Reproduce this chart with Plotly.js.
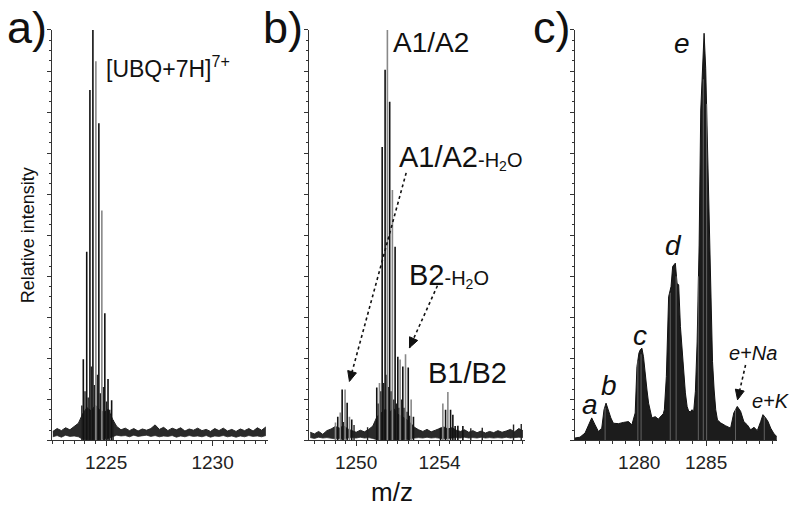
<!DOCTYPE html>
<html>
<head>
<meta charset="utf-8">
<script src="https://cdn.plot.ly/plotly-3.0.1.min.js"></script>
<style>html,body{margin:0;padding:0;background:#fff;}#chart{width:800px;height:517px;}</style>
</head>
<body>
<div id="chart"></div>
<script>
// ---------- Panel a: [UBQ+7H]7+ ----------
const aBlackMz  = [1223.93, 1224.09, 1224.24, 1224.38, 1224.66, 1224.94, 1225.09, 1225.26];
const aBlackInt = [19.8, 46.0, 85.4, 100, 77.3, 31.0, 15.0, 9.8];
const aGreyMz   = [1224.52, 1224.80];
const aGreyInt  = [92.4, 56.0];
const aLowMz    = [1223.86, 1224.01, 1224.16, 1224.31, 1224.45, 1224.59, 1224.73, 1224.87, 1225.02, 1225.17, 1225.33];
const aLowInt   = [8.5, 12.0, 10.5, 18.0, 13.5, 16.0, 11.5, 13.0, 9.5, 7.5, 5.0];
const aNoiseMz  = [1222.5,1222.7,1222.9,1223.1,1223.3,1223.5,1223.7,1223.9,1224.1,1224.3,1224.5,1224.7,1224.9,1225.1,1225.3,1225.5,1225.7,1225.9,1226.1,1226.3,1226.5,1226.7,1226.9,1227.1,1227.3,1227.5,1227.7,1227.9,1228.1,1228.3,1228.5,1228.7,1228.9,1229.1,1229.3,1229.5,1229.7,1229.9,1230.1,1230.3,1230.5,1230.7,1230.9,1231.1,1231.3,1231.5,1231.7,1231.9,1232.1,1232.3,1232.5];
const aNoiseHigh= [2.2,2.9,2.4,3.1,2.6,3.3,4.2,6.5,8.0,7.2,8.6,7.4,6.8,7.6,5.2,3.4,2.6,3.0,2.4,2.9,2.3,2.8,2.5,2.9,3.8,2.7,3.2,2.4,3.0,2.6,3.1,2.3,2.8,2.5,3.0,2.4,2.7,2.2,2.9,2.4,3.0,2.3,2.7,2.2,2.8,2.4,2.9,2.3,3.1,2.5,3.3];
const aNoiseLow = [0.9,1.2,0.8,1.3,1.0,1.1,0.9,0.3,0.2,0.2,0.3,0.2,0.4,0.5,0.9,1.3,1.1,1.2,0.9,1.3,1.0,1.1,1.3,1.0,1.2,0.9,1.1,1.0,1.2,0.8,1.1,0.9,1.2,1.0,1.1,0.9,1.2,0.8,1.1,1.0,1.2,0.9,1.1,0.8,1.1,0.9,1.2,1.0,1.1,0.9,1.2];
const aTickVals = [1225, 1230];
const aTickText = ['1225', '1230'];

// ---------- Panel b: A1/A2, B1/B2 ----------
const bBlackMz  = [1249.12, 1249.33, 1249.57, 1249.79, 1250.99, 1251.25, 1251.39, 1251.61, 1251.87, 1252.00, 1252.24, 1252.50, 1252.75, 1254.05, 1254.29, 1254.53, 1254.64, 1254.75, 1254.88, 1255.12];
const bBlackInt = [5.8, 12.4, 9.2, 5.1, 12.9, 71.5, 90.3, 82.5, 47.2, 20.4, 18.0, 17.8, 5.8, 3.1, 7.5, 7.5, 6.3, 3.5, 3.6, 3.5];
const bGreyMz   = [1249.01, 1249.24, 1249.47, 1249.68, 1251.12, 1251.50, 1251.74, 1252.11, 1252.37, 1252.64, 1254.16, 1254.40];
const bGreyInt  = [4.4, 6.8, 12.4, 5.8, 14.0, 100, 61.0, 19.7, 21.0, 10.0, 9.0, 11.8];
const bLowMz    = [1251.06, 1251.18, 1251.32, 1251.44, 1251.56, 1251.68, 1251.80, 1251.93, 1252.06, 1252.18, 1252.30, 1252.44, 1252.57, 1249.40, 1249.90, 1250.55, 1255.50, 1256.05, 1257.55, 1257.92];
const bLowInt   = [9.0, 12.0, 14.0, 16.0, 13.0, 12.0, 10.0, 9.0, 8.0, 10.0, 8.0, 7.0, 6.0, 4.5, 3.8, 3.2, 3.0, 3.1, 3.9, 4.0];
const bNoiseMz  = [1247.8,1248.0,1248.2,1248.4,1248.6,1248.8,1249.0,1249.2,1249.4,1249.6,1249.8,1250.0,1250.2,1250.4,1250.6,1250.8,1251.0,1251.2,1251.4,1251.6,1251.8,1252.0,1252.2,1252.4,1252.6,1252.8,1253.0,1253.2,1253.4,1253.6,1253.8,1254.0,1254.2,1254.4,1254.6,1254.8,1255.0,1255.2,1255.4,1255.6,1255.8,1256.0,1256.2,1256.4,1256.6,1256.8,1257.0,1257.2,1257.4,1257.6,1257.8,1258.0];
const bNoiseHigh= [2.0,1.6,2.2,1.5,2.4,2.8,3.4,3.0,3.6,2.8,2.4,2.0,2.5,2.1,2.7,3.5,5.8,6.8,7.6,6.9,7.8,6.4,5.9,5.2,4.3,3.2,2.6,2.2,2.7,2.1,2.5,2.9,3.3,2.8,3.1,2.5,2.2,2.6,2.0,2.4,1.9,2.3,1.8,2.2,1.9,2.4,2.0,2.3,2.7,2.1,2.9,2.4];
const bNoiseLow = [0.7,0.5,0.8,0.6,0.7,0.5,0.4,0.5,0.4,0.6,0.7,0.6,0.8,0.6,0.7,0.5,0.2,0.1,0.2,0.1,0.2,0.2,0.3,0.3,0.5,0.6,0.7,0.6,0.8,0.6,0.7,0.5,0.4,0.5,0.6,0.7,0.6,0.8,0.6,0.7,0.6,0.8,0.6,0.7,0.6,0.7,0.6,0.8,0.6,0.7,0.8,0.7];
const bTickVals = [1250, 1254];
const bTickText = ['1250', '1254'];

// ---------- Panel c: a..e species ----------
const cMz  = [1275.20,1275.57,1275.95,1276.20,1276.45,1276.70,1276.95,1277.20,1277.37,1277.52,1277.70,1277.88,1278.07,1278.45,1278.82,1279.20,1279.45,1279.62,1279.70,1279.83,1279.98,1280.08,1280.20,1280.32,1280.45,1280.58,1280.70,1280.83,1280.95,1281.20,1281.43,1281.65,1281.80,1281.88,1282.03,1282.20,1282.38,1282.50,1282.70,1282.83,1282.95,1283.08,1283.20,1283.32,1283.45,1283.58,1283.70,1283.83,1283.95,1284.07,1284.20,1284.33,1284.48,1284.60,1284.73,1284.85,1284.97,1285.10,1285.23,1285.35,1285.48,1285.60,1285.72,1285.85,1286.08,1286.45,1286.83,1287.07,1287.33,1287.58,1287.82,1288.08,1288.33,1288.58,1288.83,1289.08,1289.25,1289.45,1289.63,1289.83,1290.08,1290.28];
const cInt = [0.6,0.8,1.8,3.8,5.5,3.8,2.2,3.0,7.5,9.1,7.1,5.5,4.2,4.1,4.4,4.6,3.8,5.8,6.7,18.0,21.3,22.1,22.5,20.4,15.6,12.3,9.1,6.7,5.5,5.8,5.2,6.0,6.5,7.5,15.6,35.0,37.5,42.4,43.2,38.3,37.9,27.8,22.1,16.4,11.6,8.3,7.1,7.0,7.5,7.0,12.0,24.0,47.6,80.5,91.9,99.2,90.7,72.4,50.6,30.2,19.2,12.3,7.5,5.0,4.3,3.6,3.0,6.7,8.3,7.1,4.6,3.8,2.6,3.2,2.4,4.6,6.3,5.5,4.6,3.0,1.6,1.0];
// lighter isotope lines visible inside the filled envelopes
const cGreyMz  = [1277.45, 1279.90, 1280.14, 1282.32, 1282.76, 1284.42, 1284.79, 1285.04, 1287.20, 1289.35];
const cGreyInt = [8.0, 19.5, 21.0, 36.0, 40.0, 40.0, 88.0, 82.0, 7.6, 5.8];
const cTickVals = [1280, 1285];
const cTickText = ['1280', '1285'];

// ---------- helpers ----------
function sticks(mz, h) {
  const x = [], y = [];
  mz.forEach((m, i) => { x.push(m, m, null); y.push(0, h[i], null); });
  return {x, y};
}
function stickTrace(mz, h, color, width, xa, ya) {
  const s = sticks(mz, h);
  return {type: 'scatter', mode: 'lines', x: s.x, y: s.y, xaxis: xa, yaxis: ya,
          line: {color: color, width: width}, hoverinfo: 'skip'};
}
function bandTraces(mz, low, high, xa, ya) {
  return [
    {type: 'scatter', mode: 'lines', x: mz, y: low, xaxis: xa, yaxis: ya,
     line: {color: '#2a2a2a', width: 0.8}, hoverinfo: 'skip'},
    {type: 'scatter', mode: 'lines', x: mz, y: high, xaxis: xa, yaxis: ya, fill: 'tonexty',
     fillcolor: '#2a2a2a', line: {color: '#222', width: 1}, hoverinfo: 'skip'}
  ];
}

const data = [
  ...bandTraces(aNoiseMz, aNoiseLow, aNoiseHigh, 'x', 'y'),
  stickTrace(aLowMz, aLowInt, '#222', 1.4, 'x', 'y'),
  stickTrace(aGreyMz, aGreyInt, '#888', 1.6, 'x', 'y'),
  stickTrace(aBlackMz, aBlackInt, '#111', 1.6, 'x', 'y'),
  ...bandTraces(bNoiseMz, bNoiseLow, bNoiseHigh, 'x2', 'y2'),
  stickTrace(bLowMz, bLowInt, '#222', 1.4, 'x2', 'y2'),
  stickTrace(bGreyMz, bGreyInt, '#888', 1.6, 'x2', 'y2'),
  stickTrace(bBlackMz, bBlackInt, '#111', 1.6, 'x2', 'y2'),
  {type: 'scatter', mode: 'lines', x: cMz, y: cInt, xaxis: 'x3', yaxis: 'y3', fill: 'tozeroy',
   fillcolor: '#1c1c1c', line: {color: '#111', width: 1}, hoverinfo: 'skip'},
  stickTrace(cGreyMz, cGreyInt, '#6a6a6a', 0.9, 'x3', 'y3')
];

const FONT = 'Liberation Sans, Arial, Helvetica, sans-serif';
const axisCol = '#333';
function xAxis(domain, range, tv, tt, minorDt, anchor) {
  return {domain: domain, range: range, anchor: anchor, tickvals: tv, ticktext: tt,
    ticks: 'outside', ticklen: 5, tickwidth: 1, tickcolor: axisCol,
    minor: {ticks: 'outside', tick0: tv[0], dtick: minorDt, ticklen: 3, tickcolor: axisCol, tickwidth: 1},
    showline: true, linecolor: axisCol, linewidth: 1, showgrid: false, zeroline: false,
    tickfont: {family: FONT, size: 19, color: '#222'}};
}
function yAxis(anchor) {
  return {domain: [0.148, 0.942], range: [0, 100], anchor: anchor, showticklabels: false,
    ticks: 'outside', tick0: 0, dtick: 10, ticklen: 4, tickwidth: 1, tickcolor: axisCol,
    minor: {ticks: 'outside', dtick: 2.5, ticklen: 2, tickcolor: axisCol, tickwidth: 1},
    showline: true, linecolor: axisCol, linewidth: 1, showgrid: false, zeroline: false};
}

const ann = [];
function label(text, x, y, xref, yref, size, opts) {
  ann.push(Object.assign({text: text, x: x, y: y, xref: xref, yref: yref, showarrow: false,
    font: {family: FONT, size: size, color: '#111'}, xanchor: 'left', yanchor: 'middle'}, opts || {}));
}
// panel letters and axis titles
label('a)', 0.006, 0.946, 'paper', 'paper', 45);
label('b)', 0.326, 0.946, 'paper', 'paper', 45);
label('c)', 0.664, 0.946, 'paper', 'paper', 45);
label('m/z', 0.49, 0.048, 'paper', 'paper', 26, {xanchor: 'center'});
label('Relative intensity', 0.035, 0.545, 'paper', 'paper', 18, {xanchor: 'center', textangle: -90});
// panel a
label('[UBQ+7H]<sup>7+</sup>', 1224.90, 91.0, 'x', 'y', 23);
// panel b
const sub = (t) => '<span style="font-size:20px">' + t + '</span>';
label('A1/A2', 1251.66, 97.0, 'x2', 'y2', 28);
label('A1/A2' + sub('-H<sub>2</sub>O'), 1251.95, 68.9, 'x2', 'y2', 29);
label('B2' + sub('-H<sub>2</sub>O'), 1252.42, 40.1, 'x2', 'y2', 29);
label('B1/B2', 1253.33, 16.5, 'x2', 'y2', 29);
// panel c
const it = {xanchor: 'center', font: {family: FONT, size: 28, color: '#111', style: 'italic'}};
label('e', 1283.23, 96.8, 'x3', 'y3', 28, it);
label('d', 1282.55, 47.4, 'x3', 'y3', 28, it);
label('c', 1280.08, 25.5, 'x3', 'y3', 28, it);
label('b', 1277.75, 13.3, 'x3', 'y3', 28, it);
label('a', 1276.32, 8.7, 'x3', 'y3', 28, it);
const itS = {xanchor: 'center', font: {family: FONT, size: 20, color: '#111', style: 'italic'}};
label('e+Na', 1288.48, 21.4, 'x3', 'y3', 20, itS);
label('e+K', 1289.83, 9.7, 'x3', 'y3', 20, itS);

// dotted arrows: tail -> head (data coordinates); head = filled triangle drawn in pixel units
const arrows = [
  {xr: 'x2', yr: 'y2', tx: 1252.40, ty: 65.2, hx: 1249.68, hy: 14.4, head: 'M0,0 L6.96,8.47 L-1.72,10.83 Z'},
  {xr: 'x2', yr: 'y2', tx: 1253.90, ty: 37.7, hx: 1252.56, hy: 22.6, head: 'M0,0 L8.21,7.26 L0.01,10.96 Z'},
  {xr: 'x3', yr: 'y3', tx: 1287.95, ty: 18.4, hx: 1287.35, hy: 9.9,  head: 'M0,0 L6.62,8.75 L-2.16,10.75 Z'}
];
const shapes = [];
arrows.forEach(a => {
  shapes.push({type: 'line', xref: a.xr, yref: a.yr, x0: a.tx, y0: a.ty, x1: a.hx, y1: a.hy,
    line: {color: '#111', width: 1.6, dash: 'dot'}});
  shapes.push({type: 'path', xref: a.xr, yref: a.yr, xsizemode: 'pixel', ysizemode: 'pixel',
    xanchor: a.hx, yanchor: a.hy, path: a.head, fillcolor: '#111', line: {color: '#111', width: 1}});
});

const layout = {
  width: 800, height: 517, margin: {l: 0, r: 0, t: 0, b: 0},
  paper_bgcolor: '#fff', plot_bgcolor: '#fff', showlegend: false,
  font: {family: FONT, color: '#111'},
  xaxis:  xAxis([0.065, 0.335], [1222.46, 1232.6], aTickVals, aTickText, 0.5, 'y'),
  yaxis:  yAxis('x'),
  xaxis2: xAxis([0.38625, 0.65625], [1247.74, 1258.1], bTickVals, bTickText, 0.5, 'y2'),
  yaxis2: yAxis('x2'),
  xaxis3: xAxis([0.71875, 0.97125], [1275.2, 1290.3], cTickVals, cTickText, 1, 'y3'),
  yaxis3: yAxis('x3'),
  annotations: ann,
  shapes: shapes
};

Plotly.newPlot('chart', data, layout, {displayModeBar: false, staticPlot: true}).then(gd => {
  // drop empty placeholder text nodes (untitled axes) that draw nothing
  gd.querySelectorAll('text').forEach(t => { if (!t.textContent.trim()) t.remove(); });
});
</script>
</body>
</html>
